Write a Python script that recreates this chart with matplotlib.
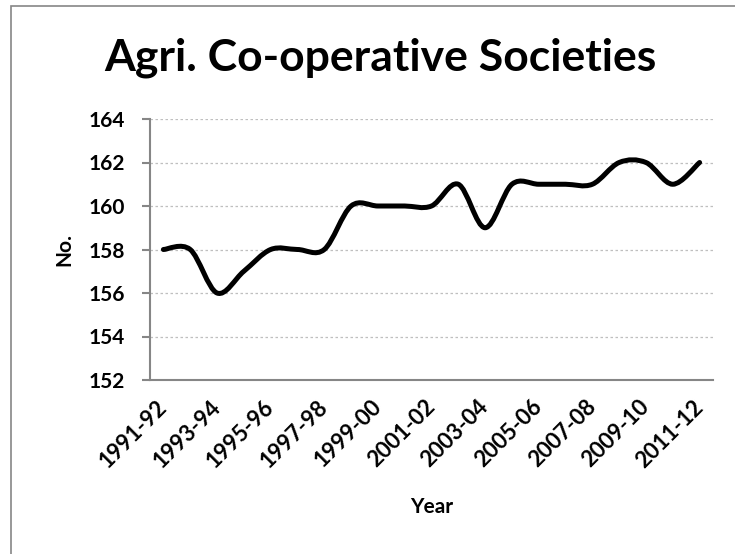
import matplotlib
matplotlib.use("Agg")
import matplotlib.pyplot as plt
from matplotlib.path import Path
from matplotlib.patches import PathPatch, Rectangle

years = ["1991-92", "1992-93", "1993-94", "1994-95", "1995-96", "1996-97",
         "1997-98", "1998-99", "1999-00", "2000-01", "2001-02", "2002-03",
         "2003-04", "2004-05", "2005-06", "2006-07", "2007-08", "2008-09",
         "2009-10", "2010-11", "2011-12"]
societies = [158, 158, 156, 157, 158, 158, 158, 160, 160, 160, 160, 161,
             159, 161, 161, 161, 161, 162, 162, 161, 162]

TITLE = "Agri. Co-operative Societies"
XLABEL = "Year"
YLABEL = "No."

plt.rcParams['font.family'] = ['Lato', 'DejaVu Sans']


def smooth_path(xs, ys):
    # Excel-style smoothed line: cubic bezier segments through each point
    n = len(xs)
    verts = [(xs[0], ys[0])]
    codes = [Path.MOVETO]
    for i in range(n - 1):
        x0, y0 = xs[max(i - 1, 0)], ys[max(i - 1, 0)]
        x1, y1 = xs[i], ys[i]
        x2, y2 = xs[i + 1], ys[i + 1]
        x3, y3 = xs[min(i + 2, n - 1)], ys[min(i + 2, n - 1)]
        c1 = (x1 + (x2 - x0) / 6, y1 + (y2 - y0) / 6)
        c2 = (x2 - (x3 - x1) / 6, y2 - (y3 - y1) / 6)
        verts += [c1, c2, (x2, y2)]
        codes += [Path.CURVE4] * 3
    return Path(verts, codes)


def main():
    fig = plt.figure(figsize=(7.35, 5.54), dpi=100)
    ax = fig.add_axes([150 / 735, 1 - 380 / 554, 563 / 735, 261 / 554])

    xs = list(range(len(years)))
    path = smooth_path(xs, societies)
    ax.add_patch(PathPatch(path, facecolor="none", edgecolor="black",
                           lw=3.6, capstyle="round", joinstyle="round", zorder=3))

    ax.set_xlim(-0.5, len(years) - 0.5)
    ax.set_ylim(152, 164)
    ax.set_yticks(range(152, 165, 2))
    ax.set_xticks(xs[::2])
    ax.set_xticklabels(years[::2], rotation=45, ha="right", va="center",
                       rotation_mode="anchor", fontsize=16, fontweight="bold")
    for lbl in ax.get_yticklabels():
        lbl.set_fontsize(15)
        lbl.set_fontweight("bold")

    ax.yaxis.grid(True, color="#bfbfbf", ls=(0, (2, 2)), lw=0.9)
    ax.set_axisbelow(True)
    for s in ["top", "right"]:
        ax.spines[s].set_visible(False)
    for s in ["left", "bottom"]:
        ax.spines[s].set_color("#868686")
        ax.spines[s].set_linewidth(1.5)
    ax.tick_params(axis="y", length=6, width=1.5, color="#868686", pad=12)
    ax.tick_params(axis="x", length=0, pad=17)

    ax.set_xlabel(XLABEL, fontsize=15, fontweight="bold", labelpad=18)
    ax.set_ylabel(YLABEL, fontsize=15, fontweight="bold", labelpad=10)
    fig.text(380 / 735, 1 - 70 / 554, TITLE, ha="center", va="baseline",
             fontsize=32, fontweight="bold")

    fig.patches.append(Rectangle((11 / 735, -0.1), 1.2, 1.1 - 6 / 554,
                                 transform=fig.transFigure, fill=False,
                                 edgecolor="#868686", lw=1.2))

    fig.savefig("out.png", dpi=100)
    plt.close(fig)


if __name__ == "__main__":
    main()
